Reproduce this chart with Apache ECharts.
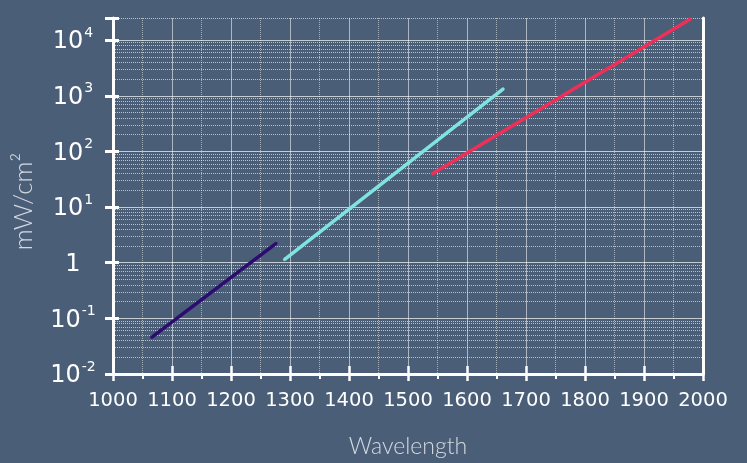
<!DOCTYPE html>
<html><head><meta charset="utf-8">
<script src="https://cdn.jsdelivr.net/npm/echarts@6/dist/echarts.min.js"></script>
<style>html,body{margin:0;padding:0;background:#4b5e77;}#c{width:747px;height:463px;}</style>
</head><body><div id="c"></div>
<script>
// ---- data ----
const purpleX = [1066, 1276];
const purpleY = [0.046, 2.2];
const cyanX = [1291, 1661];
const cyanY = [1.15, 1320];
const redX = [1542, 1978];
const redY = [40, 23800];
const xMin = 1000, xMax = 2000, xStep = 100;
const yMin = 0.01, yMax = 25000;
const yDecades = [-2, -1, 0, 1, 2, 3];
const minorMultipliers = [2, 3, 4, 5, 6, 7, 8, 9];
const xTitle = 'Wavelength';
const yTitle = 'mW/cm²';

const zip = (xs, ys) => xs.map((x, i) => [x, ys[i]]);
const minorLevels = [];
yDecades.forEach(e => minorMultipliers.forEach(m => minorLevels.push({ yAxis: m * Math.pow(10, e) })));
minorLevels.push({ yAxis: yMax });

const white = '#ffffff';
const majorGrid = 'rgba(255,255,255,0.68)';
const splitColors = [majorGrid, majorGrid, majorGrid, majorGrid, majorGrid, majorGrid, majorGrid, 'rgba(0,0,0,0)'];

function yLabel(v) {
  const l = Math.log10(v);
  const e = Math.round(l);
  if (Math.abs(l - e) > 1e-6) return '';
  if (e === 0) return '{b|1}';
  return '{b|10}{s|' + e + '}';
}

const chart = echarts.init(document.getElementById('c'));
chart.setOption({
  animation: false,
  backgroundColor: '#4b5e77',
  grid: { left: 113, right: 44, top: 18, bottom: 88 },
  xAxis: [{
    type: 'value', min: xMin, max: xMax, interval: xStep, position: 'bottom',
    axisLine: { show: true, onZero: false, lineStyle: { color: white, width: 3 } },
    axisTick: { show: true, inside: false, length: 7, lineStyle: { color: white, width: 2.5 } },
    minorTick: { show: true, splitNumber: 2, length: 5, lineStyle: { color: white, width: 2 } },
    minorSplitLine: { show: true, lineStyle: { color: 'rgba(255,255,255,0.5)', type: 'dotted', width: 1 } },
    splitLine: { show: true, lineStyle: { color: 'rgba(255,255,255,0.55)', width: 1 } },
    axisLabel: { color: white, fontSize: 19.5, fontFamily: 'DejaVu Sans', margin: 17, formatter: v => String(v) },
    name: xTitle, nameLocation: 'middle', nameGap: 61,
    nameTextStyle: { color: '#d3d9e0', fontFamily: 'Lato', fontWeight: 300, fontSize: 23 }
  }, {
    type: 'value', min: xMin, max: xMax, interval: xStep, position: 'bottom',
    axisLine: { show: false },
    axisTick: { show: true, inside: true, length: 8, lineStyle: { color: white, width: 2.5 } },
    axisLabel: { show: false }, splitLine: { show: false }
  }],
  yAxis: [{
    type: 'log', logBase: 10, min: yMin, max: yMax, interval: 1, position: 'left',
    axisLine: { show: true, onZero: false, lineStyle: { color: white, width: 3 } },
    axisTick: { show: true, inside: false, length: 8, lineStyle: { color: white, width: 3 } },
    splitLine: { show: true, lineStyle: { color: splitColors, width: 1 } },
    axisLabel: {
      formatter: yLabel, align: 'center', margin: 40,
      rich: {
        b: { color: white, fontSize: 24, fontFamily: 'DejaVu Sans', lineHeight: 28, verticalAlign: 'bottom' },
        s: { color: white, fontSize: 14, fontFamily: 'DejaVu Sans', lineHeight: 28, verticalAlign: 'top', padding: [0, 0, 0, 1] }
      }
    },
    name: yTitle, nameLocation: 'middle', nameGap: 76,
    nameTextStyle: { color: '#d3d9e0', fontFamily: 'Lato', fontWeight: 300, fontSize: 26, padding: [0, 11, 0, 0] }
  }, {
    type: 'log', logBase: 10, min: yMin, max: yMax, interval: 1, position: 'left',
    axisLine: { show: false },
    axisTick: { show: true, inside: true, length: 6, lineStyle: { color: white, width: 3 } },
    axisLabel: { show: false }, splitLine: { show: false }
  }, {
    type: 'value', min: 0, max: 1, position: 'right',
    axisLine: { show: true, lineStyle: { color: white, width: 3 } },
    axisTick: { show: false }, axisLabel: { show: false }, splitLine: { show: false }
  }],
  series: [{
    type: 'line', data: [], z: 1, silent: true,
    markLine: {
      silent: true, symbol: ['none', 'none'], label: { show: false }, animation: false,
      lineStyle: { color: 'rgba(255,255,255,0.62)', type: 'dotted', width: 1 },
      emphasis: { disabled: true },
      data: minorLevels
    }
  }, {
    type: 'line', data: zip(purpleX, purpleY), showSymbol: false, z: 5,
    lineStyle: { color: '#2c0c70', width: 3.5, cap: 'round' }
  }, {
    type: 'line', data: zip(cyanX, cyanY), showSymbol: false, z: 5,
    lineStyle: { color: '#7fe3e1', width: 3.5, cap: 'round' }
  }, {
    type: 'line', data: zip(redX, redY), showSymbol: false, z: 5,
    lineStyle: { color: '#f02f58', width: 3.5, cap: 'round' }
  }]
});
</script></body></html>
